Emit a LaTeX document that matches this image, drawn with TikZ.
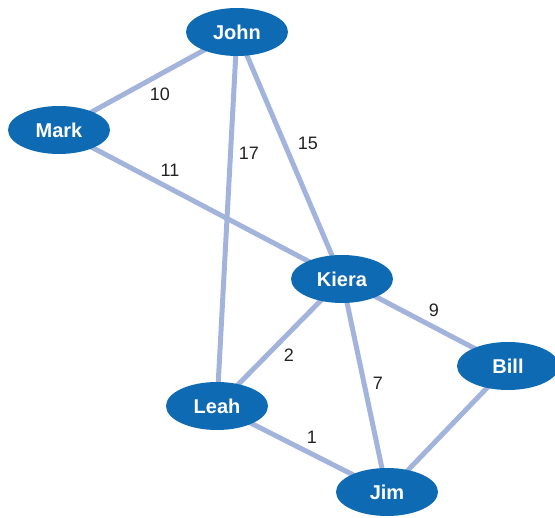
\documentclass[tikz,border=0pt]{standalone}
\usepackage{fontspec}
\setmainfont{Liberation Sans}
\usetikzlibrary{backgrounds,shapes.geometric}
\definecolor{nodeblue}{HTML}{0F6AB4}
\definecolor{edgeblue}{HTML}{A3B4DC}
\definecolor{labelgray}{HTML}{222222}
\tikzset{
  person/.style={ellipse, fill=nodeblue, text=white, minimum width=102pt, minimum height=48pt, inner sep=0pt, font=\fontsize{20}{22}\selectfont\bfseries},
  link/.style={draw=edgeblue, line width=5pt},
  weight/.style={text=labelgray, inner sep=0pt, font=\fontsize{18}{20}\selectfont}
}
\begin{document}
\begin{tikzpicture}[x=1pt,y=-1pt]
\useasboundingbox (0,0) rectangle (555,518);
\node[person] (john) at (237,32) {John};
\node[person] (mark) at (59,130) {Mark};
\node[person] (kiera) at (342,279) {Kiera};
\node[person] (bill) at (508,366) {Bill};
\node[person] (leah) at (217,406) {Leah};
\node[person] (jim) at (387,492) {Jim};
\begin{scope}[on background layer]
\draw[link] (john.center) -- (mark.center);
\draw[link] (john.center) -- (leah.center);
\draw[link] (john.center) -- (kiera.center);
\draw[link] (mark.center) -- (kiera.center);
\draw[link] (kiera.center) -- (bill.center);
\draw[link] (kiera.center) -- (leah.center);
\draw[link] (kiera.center) -- (jim.center);
\draw[link] (leah.center) -- (jim.center);
\draw[link] (bill.center) -- (jim.center);
\end{scope}
\node[weight] (w10) at (160,94) {10};
\node[weight] (w17) at (249,153) {17};
\node[weight] (w15) at (308,143) {15};
\node[weight] (w11) at (170,170) {11};
\node[weight] (w9) at (434,310) {9};
\node[weight] (w2) at (289,355) {2};
\node[weight] (w7) at (378,383) {7};
\node[weight] (w1) at (312,437) {1};
\end{tikzpicture}
\end{document}
